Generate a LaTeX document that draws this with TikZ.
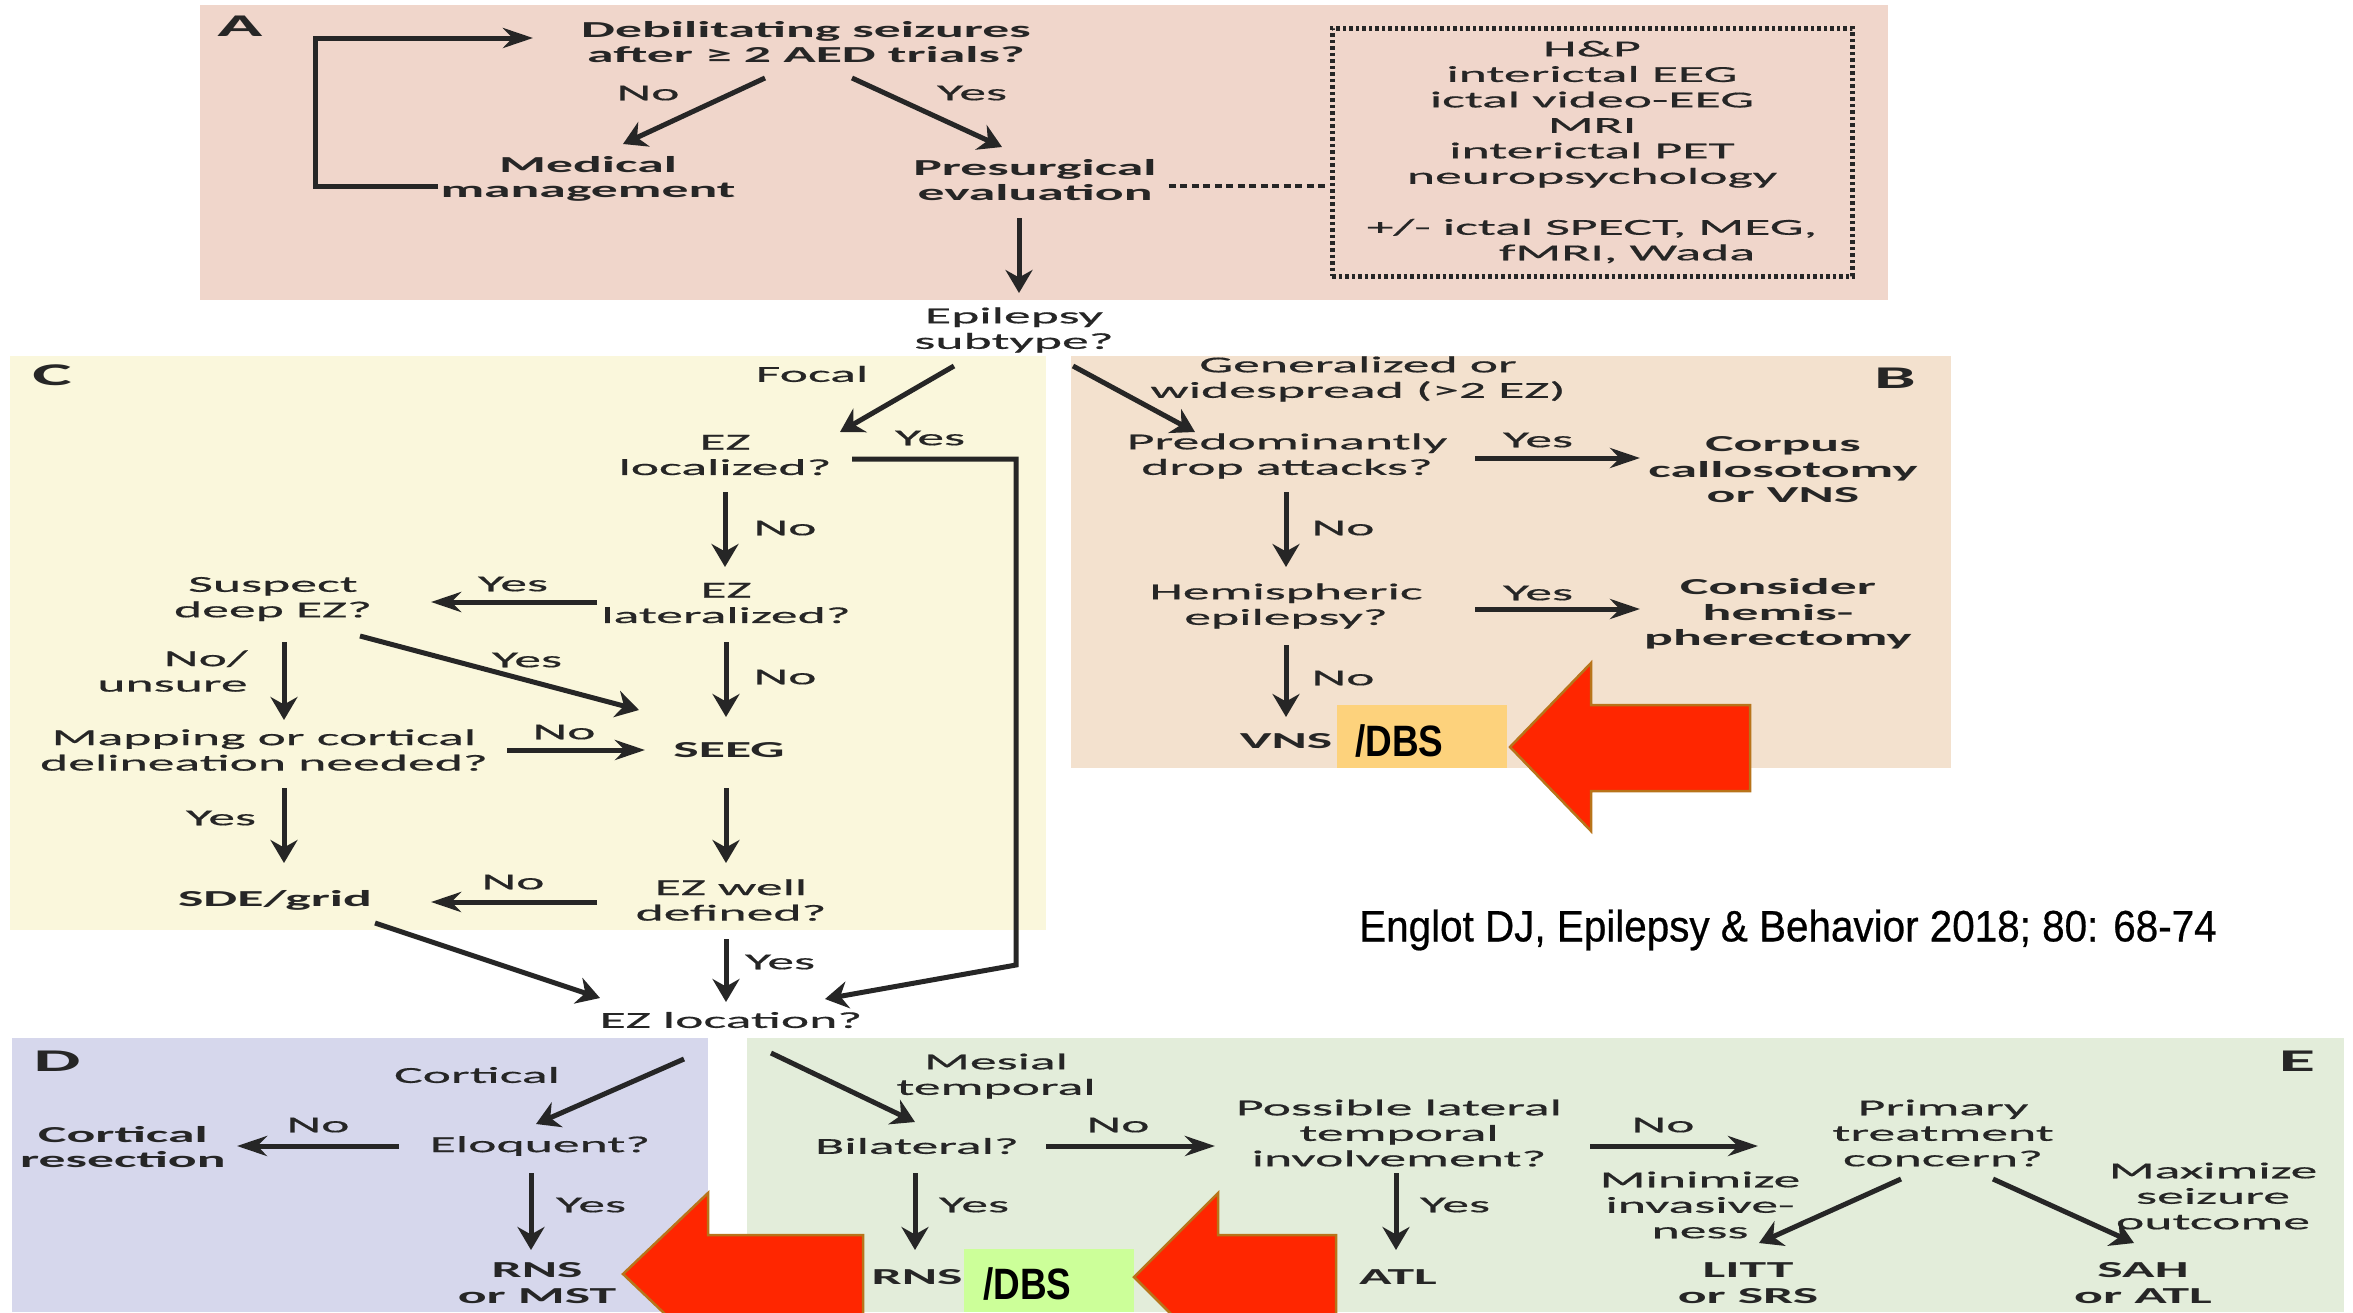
\documentclass[tikz,border=0pt]{standalone}
\usepackage{fontspec}
\usepackage{tikz}
\usetikzlibrary{arrows.meta,calc,positioning}
\newfontfamily\figfont[FakeStretch=2.35,UprightFeatures={FakeBold=0.6}]{Carlito}
\newfontfamily\citefont[FakeStretch=0.92,FakeBold=0.6]{Liberation Sans}
\newfontfamily\dbsfont[FakeStretch=0.84]{Liberation Sans}
\definecolor{ink}{HTML}{262626}
\definecolor{panelA}{HTML}{F0D6CB}
\definecolor{panelB}{HTML}{F3E1CE}
\definecolor{panelC}{HTML}{FAF7DC}
\definecolor{panelD}{HTML}{D6D7EC}
\definecolor{panelE}{HTML}{E3EDDA}
\definecolor{dbsyellow}{HTML}{FDD27C}
\definecolor{dbsgreen}{HTML}{CCFF99}
\definecolor{alertred}{HTML}{FF2600}
\definecolor{alertedge}{HTML}{B8741A}
\tikzset{
  txt/.style={align=center,inner sep=0pt,text=ink,
              font=\figfont\fontsize{13}{14.5}\selectfont},
  btxt/.style={txt,font=\figfont\bfseries\fontsize{13}{14.5}\selectfont},
  panellabel/.style={inner sep=0pt,text=ink,
              font=\figfont\bfseries\fontsize{18}{18}\selectfont},
  arr/.style={-{Stealth[length=4.6mm,width=5.4mm]},line width=1mm,draw=ink},
  harr/.style={arr,-{Stealth[length=6mm,width=4mm]}},
  dotline/.style={line width=0.7mm,dash pattern=on 1.4mm off 0.9mm,draw=ink},
  dotbox/.style={draw=ink,line width=1mm,dash pattern=on 0.7mm off 0.6mm,
                 inner sep=0pt,minimum width=104mm,minimum height=49.6mm},
  dbsbox/.style={inner sep=0pt,minimum width=34mm,minimum height=12.6mm},
  dbstext/.style={anchor=west,inner sep=0pt,
              font=\dbsfont\bfseries\fontsize{25}{25}\selectfont},
  redarrow/.style={fill=alertred,draw=alertedge,line width=0.5mm}
}
\begin{document}
\begin{tikzpicture}[x=0.2mm,y=-0.2mm]
  \useasboundingbox (0,0) rectangle (2353,1312);
  % coloured panels
  \fill[panelA] (200,5) rectangle (1888,300);
  \fill[panelC] (10,356) rectangle (1046,930);
  \fill[panelB] (1071,356) rectangle (1951,768);
  \fill[panelD] (12,1038) rectangle (708,1312);
  \fill[panelE] (747,1038) rectangle (2344,1312);

  % A: referral
  \node[panellabel] (labA) at (240,26) {A};
  \node[btxt] (deb) at (806,42) {Debilitating seizures\\after ≥ 2 AED trials?};
  \node[btxt] (med) at (588,179) {Medical\\management};
  \node[btxt] (pre) at (1035,180) {Presurgical\\evaluation};
  \node[txt] at (648,93) {No};
  \node[txt] at (972,93) {Yes};
  \node[txt,dotbox] (tests) at (1592,152)
    {H\&P\\interictal EEG\\ictal video-EEG\\MRI\\interictal PET\\neuropsychology\\[14.5pt]
     +/- ictal SPECT, MEG,\\\hspace*{14mm}fMRI, Wada};
  \draw[arr] ($(deb)+(-41,36)$) -- ($(med)+(35,-35)$);
  \draw[arr] ($(deb)+(46,36)$) -- ($(pre)+(-33,-33)$);
  \draw[harr] ($(med)+(-150,7)$) -- ++(-123,0) |- ($(deb)+(-273,-4)$);
  \draw[dotline] ($(pre.east)+(12,6)$) -- ($(pre.east -| tests.west)+(0,6)$);

  \node[txt] (subtype) at (1014,330) {Epilepsy\\subtype?};
  \draw[arr] ($(pre)+(-16,38)$) -- ($(subtype)+(5,-37)$);

  % C: focal
  \node[panellabel] (labC) at (52,375) {C};
  \node[txt] at (812,374) {Focal};
  \node[txt] (loc) at (725,455) {EZ\\localized?};
  \node[txt] (lat) at (726,603) {EZ\\lateralized?};
  \node[txt] (deep) at (273,599) {Suspect\\deep EZ?};
  \node[txt] (map) at (264,750) {Mapping or cortical\\delineation needed?};
  \node[btxt] (seeg) at (729,750) {SEEG};
  \node[btxt] (sde) at (275,900) {SDE/grid};
  \node[txt] (well) at (731,900) {EZ well\\defined?};
  \node[txt] (ezloc) at (731,1020) {EZ location?};
  \node[txt] at (930,438) {Yes};
  \node[txt] at (785,528) {No};
  \node[txt] at (513,584) {Yes};
  \node[txt] at (527,660) {Yes};
  \node[txt,align=right,anchor=east] at (248,671) {No/\\unsure};
  \node[txt] at (785,677) {No};
  \node[txt] at (564,732) {No};
  \node[txt] at (221,818) {Yes};
  \node[txt] at (513,882) {No};
  \node[txt] at (780,962) {Yes};
  \draw[arr] ($(subtype)+(-60,36)$) -- ($(loc)+(115,-23)$);
  \draw[arr] ($(loc)+(127,4)$) -- ++(164,0) -- ++(0,506) -- ($(ezloc)+(94,-21)$);
  \draw[arr] ($(loc)+(0,37)$) -- ($(lat)+(-1,-36)$);
  \draw[harr] ($(lat)+(-129,-1)$) -- ($(deep)+(158,3)$);
  \draw[arr] ($(deep)+(87,37)$) -- ($(seeg)+(-90,-40)$);
  \draw[arr] ($(deep)+(11,43)$) -- ($(map)+(20,-30)$);
  \draw[arr] ($(lat)+(0,39)$) -- ($(seeg)+(-3,-33)$);
  \draw[harr] ($(map)+(243,0)$) -- ($(seeg)+(-84,0)$);
  \draw[arr] ($(seeg)+(-3,38)$) -- ($(well)+(-5,-37)$);
  \draw[arr] ($(map)+(20,38)$) -- ($(sde)+(9,-37)$);
  \draw[harr] ($(well)+(-134,2)$) -- ($(sde)+(156,2)$);
  \draw[arr] ($(sde)+(100,23)$) -- ($(ezloc)+(-131,-22)$);
  \draw[arr] ($(well)+(-5,39)$) -- ($(ezloc)+(-5,-18)$);

  % B: generalized
  \node[panellabel] (labB) at (1895,378) {B};
  \node[txt] (gen) at (1358,379) {Generalized or\\widespread (>2 EZ)};
  \node[txt] (drop) at (1287,456) {Predominantly\\drop attacks?};
  \node[btxt] (corpus) at (1783,470) {Corpus\\callosotomy\\or VNS};
  \node[txt] (hemi) at (1286,606) {Hemispheric\\epilepsy?};
  \node[btxt] (hemis) at (1778,614) {Consider\\hemis-\\pherectomy};
  \node[btxt] (vns) at (1286,741) {VNS};
  \node[txt] at (1538,440) {Yes};
  \node[txt] at (1343,528) {No};
  \node[txt] at (1538,593) {Yes};
  \node[txt] at (1343,678) {No};
  \draw[arr] ($(subtype)+(59,36)$) -- ($(drop)+(-92,-24)$);
  \draw[harr] ($(drop)+(188,2)$) -- ($(corpus)+(-143,-12)$);
  \draw[arr] ($(drop)+(-1,36)$) -- ($(hemi)+(0,-39)$);
  \draw[harr] ($(hemi)+(189,3)$) -- ($(hemis)+(-138,-5)$);
  \draw[arr] ($(hemi)+(0,39)$) -- ($(vns)+(0,-24)$);
  \node[dbsbox,fill=dbsyellow] (dbsB) at (1422,736.5) {};
  \node[dbstext] (dbsBtext) at (1355,741) {/DBS};

  % D: cortical
  \node[panellabel] (labD) at (57,1061) {D};
  \node[txt] at (477,1075) {Cortical};
  \node[txt] (eloq) at (540,1146) {Eloquent?};
  \node[btxt] (cortres) at (123,1147) {Cortical\\resection};
  \node[btxt] (rnsmst) at (537,1283) {RNS\\or MST};
  \node[txt] at (318,1125) {No};
  \node[txt] at (591,1205) {Yes};
  \draw[arr] ($(ezloc)+(-47,39)$) -- ($(eloq)+(-4,-22)$);
  \draw[harr] ($(eloq)+(-141,0)$) -- ($(cortres)+(114,-1)$);
  \draw[arr] ($(eloq)+(-9,27)$) -- ($(rnsmst)+(-6,-33)$);

  % E: mesial temporal
  \node[panellabel] (labE) at (2297,1061) {E};
  \node[txt] at (996,1076) {Mesial\\temporal};
  \node[txt] (bilat) at (917,1146) {Bilateral?};
  \node[txt] (possible) at (1399,1133) {Possible lateral\\temporal\\involvement?};
  \node[txt] (primary) at (1943,1133) {Primary\\treatment\\concern?};
  \node[btxt] (rns) at (917,1277) {RNS};
  \node[btxt] (atl) at (1398,1277) {ATL};
  \node[btxt] (litt) at (1748,1283) {LITT\\or SRS};
  \node[btxt] (sah) at (2143,1283) {SAH\\or ATL};
  \node[txt] at (1118,1125) {No};
  \node[txt] at (1663,1125) {No};
  \node[txt] at (974,1205) {Yes};
  \node[txt] at (1455,1205) {Yes};
  \node[txt] at (1700,1205) {Minimize\\invasive-\\ness};
  \node[txt] at (2213,1196) {Maximize\\seizure\\outcome};
  \draw[arr] ($(ezloc)+(40,33)$) -- ($(bilat)+(-2,-24)$);
  \draw[harr] ($(bilat)+(129,0)$) -- ($(possible)+(-184,13)$);
  \draw[harr] ($(possible)+(191,13)$) -- ($(primary)+(-185,13)$);
  \draw[arr] ($(bilat)+(-2,27)$) -- ($(rns)+(-2,-27)$);
  \draw[arr] ($(possible)+(-3,40)$) -- ($(atl)+(-2,-27)$);
  \draw[arr] ($(primary)+(-42,46)$) -- ($(litt)+(11,-40)$);
  \draw[arr] ($(primary)+(50,46)$) -- ($(sah)+(-9,-40)$);
  \node[dbsbox,fill=dbsgreen] (dbsE) at (1048.5,1280) {};
  \node[dbstext] (dbsEtext) at (983,1284) {/DBS};

  % citation
  \node[inner sep=0pt,font=\citefont\fontsize{25}{25}\selectfont] (cite) at (1788,930)
    {Englot DJ, Epilepsy \& Behavior 2018; 80: 68-74};

  % red highlight arrows
  \begin{scope}
    \clip (0,0) rectangle (2353,1312);
    \draw[redarrow] (1510,747) -- (1591,663) -- (1591,705) -- (1750,705)
      -- (1750,791) -- (1591,791) -- (1591,831) -- cycle;
    \draw[redarrow] (623,1274) -- (708,1193) -- (708,1235) -- (863,1235)
      -- (863,1330) -- (708,1330) -- (708,1355) -- cycle;
    \draw[redarrow] (1134,1277) -- (1218,1193) -- (1218,1235) -- (1336,1235)
      -- (1336,1330) -- (1218,1330) -- (1218,1361) -- cycle;
  \end{scope}
\end{tikzpicture}
\end{document}
